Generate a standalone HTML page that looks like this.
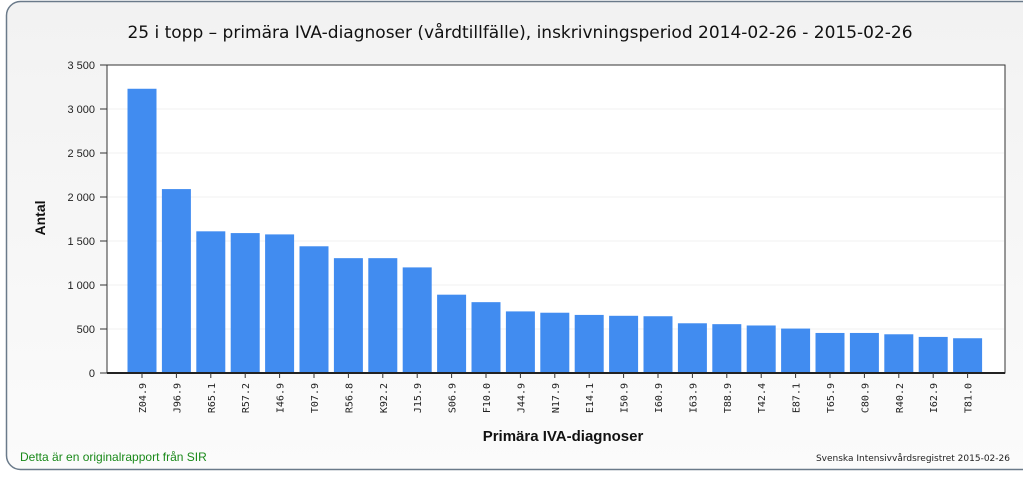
<!DOCTYPE html>
<html><head><meta charset="utf-8"><style>
body{margin:0;width:1023px;height:473px;background:#fff;overflow:hidden;font-family:"Liberation Sans",sans-serif}
</style></head><body>
<svg width="1023" height="473" xmlns="http://www.w3.org/2000/svg">
<defs><linearGradient id="bg" x1="0" y1="0" x2="0" y2="1"><stop offset="0" stop-color="#f2f2f2"/><stop offset="1" stop-color="#fbfbfb"/></linearGradient></defs>
<rect x="6.5" y="1.5" width="1030" height="468" rx="14" fill="url(#bg)" stroke="#6a7a8a" stroke-width="1.5"/>
<text x="520" y="38" text-anchor="middle" font-family="DejaVu Sans, sans-serif" font-size="17" fill="#111">25 i topp – primära IVA-diagnoser (vårdtillfälle), inskrivningsperiod 2014-02-26 - 2015-02-26</text>
<rect x="107" y="65" width="898" height="308" fill="#fff" stroke="#333" stroke-width="1"/>
<g id="grid"></g><g id="bars"></g><g id="yaxis"></g><g id="xaxis"></g>
<text x="45" y="218" text-anchor="middle" font-size="14" font-weight="bold" fill="#111" transform="rotate(-90 45 218)">Antal</text>
<text x="563" y="441" text-anchor="middle" font-size="15" font-weight="bold" fill="#111">Primära IVA-diagnoser</text>
<text x="20" y="461" font-size="12" fill="#1a8a1a">Detta är en originalrapport från SIR</text>
<text x="1010" y="461" text-anchor="end" font-family="DejaVu Sans, sans-serif" font-size="9" fill="#222">Svenska Intensivvårdsregistret 2015-02-26</text>
</svg>
<script>
const categories=["Z04.9","J96.9","R65.1","R57.2","I46.9","T07.9","R56.8","K92.2","J15.9","S06.9","F10.0","J44.9","N17.9","E14.1","I50.9","I60.9","I63.9","T88.9","T42.4","E87.1","T65.9","C80.9","R40.2","I62.9","T81.0"];
const values=[3230,2090,1610,1590,1575,1440,1305,1305,1200,890,805,700,685,660,650,645,565,555,540,505,455,455,440,410,395];
const yTicks=[0,500,1000,1500,2000,2500,3000,3500];
const yTickLabels=["0","500","1 000","1 500","2 000","2 500","3 000","3 500"];
const NS="http://www.w3.org/2000/svg";
const y0=373,y1=65,yMax=3500;
const y=v=>y0-(v/yMax)*(y0-y1);
const step=34.4,first=142,bw=29;
const x=i=>first+i*step;
function mk(t,a,p){const e=document.createElementNS(NS,t);for(const k in a)e.setAttribute(k,a[k]);p.appendChild(e);return e;}
const g=document.getElementById('grid'),b=document.getElementById('bars'),ya=document.getElementById('yaxis'),xa=document.getElementById('xaxis');
yTicks.forEach((v,i)=>{
 if(v>0&&v<yMax){const l=mk('line',{x1:108,x2:1004,y1:y(v),y2:y(v),stroke:'#f0f0f0'},g);
 
 }
 const t=mk('line',{x1:100,x2:107,y1:y(v),y2:y(v),stroke:'#333'},ya);
 
 
 const tx=mk('text',{x:95,y:y(v)+4,'text-anchor':'end','font-size':11,fill:'#222'},ya);
 tx.textContent=yTickLabels[i];
 
 
});
mk('line',{x1:107,x2:1005,y1:y0,y2:y0,stroke:'#222','stroke-width':2},xa);
categories.forEach((c,i)=>{
 const r=mk('rect',{x:x(i)-bw/2,y:y(values[i]),width:bw,height:y0-y(values[i]),fill:'#418cf0'},b);
 
 
 const t=mk('line',{x1:x(i),x2:x(i),y1:y0,y2:y0+5,stroke:'#333'},xa);
 
 
 const tx=mk('text',{x:x(i)+4,y:y0+10,'text-anchor':'end','font-family':'DejaVu Sans Mono, monospace','font-size':10,fill:'#222',transform:`rotate(-90 ${x(i)+4} ${y0+10})`},xa);
 tx.textContent=c;
 
 
});
</script>
</body></html>
